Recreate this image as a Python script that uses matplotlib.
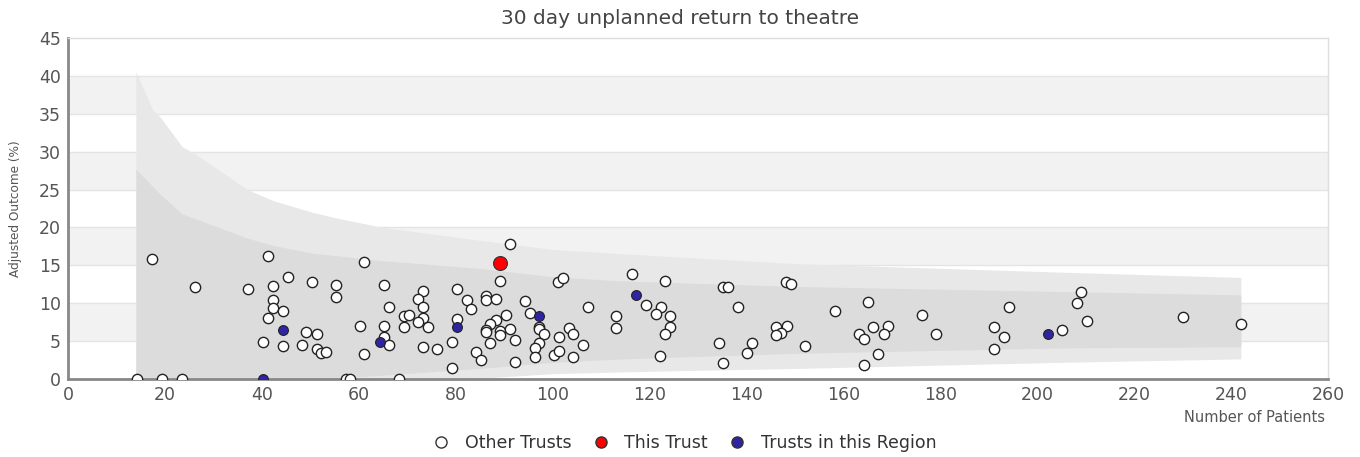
import matplotlib
matplotlib.use("Agg")
import matplotlib.pyplot as plt
from matplotlib.lines import Line2D

# Dati del grafico
others_x = [14.2, 19.3, 23.5, 17.4, 26.2, 37.2, 41.3, 45.3, 50.3, 42.2, 42.2, 42.2, 44.3, 41.3,
            49.2, 51.3, 40.2, 44.3, 48.2, 51.3, 52.3, 53.2, 57.3, 58.2, 68.2, 91.2, 61.1, 55.2,
            55.2, 65.3, 73.3, 72.3, 73.3, 66.2, 69.3, 70.3, 73.3, 72.3, 69.4, 74.2, 60.2, 65.3,
            65.3, 66.2, 61.1, 73.3, 76.1, 79.2, 79.2, 80.3, 80.3, 82.3, 83.2, 86.2, 86.3, 88.3,
            89.1, 90.3, 88.3, 87.1, 86.2, 86.3, 89.1, 89.1, 91.2, 92.2, 87.1, 84.2, 85.3, 92.2,
            94.2, 95.3, 97.1, 97.1, 98.3, 97.2, 96.3, 96.3, 100.2, 101.2, 102.2, 101.3, 101.3,
            103.3, 104.3, 106.3, 104.3, 107.2, 113.1, 113.1, 116.3, 119.3, 123.1, 122.3, 121.3,
            124.2, 124.2, 123.2, 122.2, 135.2, 136.1, 138.2, 134.3, 135.2, 141.2, 140.2, 148.2,
            149.1, 146.1, 148.3, 147.1, 146.1, 152.1, 158.2, 165.0, 163.2, 164.2, 166.2, 169.1,
            168.3, 167.1, 164.2, 176.2, 179.2, 194.2, 191.0, 193.1, 191.0, 205.1, 209.0, 208.1,
            210.2, 230.0, 242.1]
others_y = [0, 0, 0, 15.9, 12.2, 11.9, 16.2, 13.5, 12.8, 12.3, 10.4, 9.4, 9.0, 8.1,
            6.2, 5.9, 4.9, 4.35, 4.5, 3.9, 3.45, 3.6, 0, 0, 0, 17.85, 15.5, 12.4,
            10.85, 12.4, 11.6, 10.5, 9.55, 9.55, 8.25, 8.4, 8.1, 7.55, 6.9, 6.9, 7.05, 7.05,
            5.6, 4.45, 3.3, 4.2, 4.0, 4.9, 1.4, 11.9, 7.95, 10.4, 9.3, 10.9, 10.4, 10.5,
            12.9, 8.5, 7.85, 7.25, 6.4, 6.2, 6.3, 5.8, 6.55, 5.15, 4.7, 3.55, 2.5, 2.25,
            10.35, 8.65, 6.9, 6.6, 5.9, 4.8, 4.15, 2.9, 3.2, 12.85, 13.3, 5.6, 3.75,
            6.7, 5.95, 4.5, 2.85, 9.55, 8.3, 6.7, 13.85, 9.75, 12.9, 9.45, 8.6,
            8.3, 6.85, 6.0, 3.1, 12.1, 12.2, 9.45, 4.75, 2.15, 4.75, 3.45, 12.75,
            12.5, 6.85, 7.0, 6.1, 5.75, 4.3, 8.95, 10.2, 6.0, 5.3, 6.9, 7.05,
            5.9, 3.3, 1.85, 8.4, 5.9, 9.55, 6.8, 5.5, 3.95, 6.45, 11.45, 10.0,
            7.6, 8.2, 7.3]

region_x = [40.2, 44.3, 64.3, 80.3, 97.1, 117.2, 202.2]
region_y = [0, 6.5, 4.85, 6.8, 8.35, 11.1, 5.9]

trust_x = [89.1]
trust_y = [15.35]

# Limiti del funnel
funnel_x = [14, 17.5, 19, 23.5, 26.5, 37, 42.5, 50.5, 55, 65, 85, 100, 112.5, 126, 151, 205, 242]
outer_hi = [40.5, 35.5, 34.6, 30.7, 29.6, 25.0, 23.5, 22.0, 21.3, 20.0, 18.3, 17.1, 16.6, 16.1,
            15.2, 14.1, 13.4]
inner_hi = [27.7, 25.4, 24.4, 21.8, 21.1, 18.6, 17.6, 16.6, 16.3, 15.6, 14.6, 13.5, 13.0, 12.7,
            12.2, 11.55, 11.1]
inner_lo = [0, 0, 0, 0, 0, 0, 0, 0, 0.1, 0.5, 1.4, 2.2, 2.6, 2.9, 3.4, 4.1, 4.25]
outer_lo = [0, 0, 0, 0, 0, 0, 0, 0, 0, 0, 0.1, 0.7, 0.9, 1.1, 1.4, 2.2, 2.65]

x_ticks = list(range(0, 261, 20))
y_ticks = list(range(0, 46, 5))

TEXT = "#555555"
BLUE = "#2f24a3"

fig = plt.figure(figsize=(13.6, 4.57), dpi=100)
ax = fig.add_axes([0.05, 0.1707, 0.9265, 0.7461])

# Strisce alternate dello sfondo
for i, y0 in enumerate(y_ticks[:-1]):
    if i % 2 == 1:
        ax.axhspan(y0, y0 + 5, color="#f2f2f2", lw=0, zorder=0)
for y0 in y_ticks[1:-1]:
    ax.axhline(y0, color="#e4e4e4", lw=1, zorder=0.5)

# Bande del funnel
ax.fill_between(funnel_x, outer_lo, outer_hi, color="#e8e8e8", lw=0, zorder=1)
ax.fill_between(funnel_x, inner_lo, inner_hi, color="#dcdcdc", lw=0, zorder=1.5)

# Punti
ax.scatter(others_x, others_y, s=55, facecolor="white", edgecolor="#222222", linewidth=1, zorder=3)
ax.scatter(region_x, region_y, s=50, facecolor=BLUE, edgecolor="#222222", linewidth=0.8, zorder=4)
ax.scatter(trust_x, trust_y, s=100, facecolor="#ff0000", edgecolor="#333333", linewidth=0.8, zorder=5)

ax.set_xlim(0, 260)
ax.set_ylim(0, 45)
ax.set_xticks(x_ticks)
ax.set_yticks(y_ticks)
ax.tick_params(length=0, labelsize=12.5, colors=TEXT, pad=5)

for side in ["left", "bottom"]:
    ax.spines[side].set_color("#888888")
    ax.spines[side].set_linewidth(2)
for side in ["top", "right"]:
    ax.spines[side].set_color("#dddddd")
    ax.spines[side].set_linewidth(1)

fig.text(0.5, 1 - 18 / 457, "30 day unplanned return to theatre", fontsize=14.5, color="#444444",
         ha="center", va="center")
ax.set_ylabel("Adjusted Outcome (%)", fontsize=8.7, color=TEXT)
ax.yaxis.set_label_coords(-0.0365, 0.5)
fig.text(0.9745, 1 - 418 / 457, "Number of Patients", fontsize=10.5, color=TEXT, ha="right", va="center")

handles = [
    Line2D([], [], marker="o", ls="", markersize=8, markerfacecolor="white", markeredgecolor="#333333"),
    Line2D([], [], marker="o", ls="", markersize=8, markerfacecolor="#ff0000", markeredgecolor="#333333"),
    Line2D([], [], marker="o", ls="", markersize=8, markerfacecolor=BLUE, markeredgecolor="#333333"),
]
fig.legend(handles, ["Other Trusts", "This Trust", "Trusts in this Region"], loc="center",
           bbox_to_anchor=(0.5, 1 - 443 / 457), ncol=3, frameon=False, fontsize=12.5,
           labelcolor="#333333", handletextpad=0.35, columnspacing=0.7)

fig.savefig("out.png", dpi=100)
